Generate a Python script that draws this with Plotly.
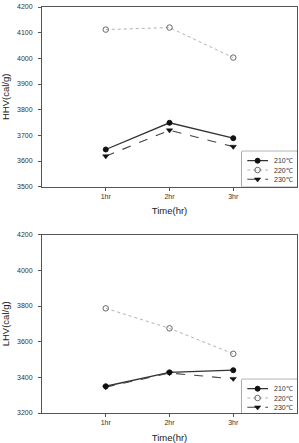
import plotly.graph_objects as go

# ---- data ----
times = ["1hr", "2hr", "3hr"]
series_names = ["210℃", "220℃", "230℃"]
hhv_210 = [3645, 3749, 3689]
hhv_220 = [4112, 4120, 4003]
hhv_230 = [3619, 3720, 3656]
lhv_210 = [3350, 3428, 3440]
lhv_220 = [3787, 3675, 3532]
lhv_230 = [3345, 3424, 3392]
hhv_ticks = [3500, 3600, 3700, 3800, 3900, 4000, 4100, 4200]
lhv_ticks = [3200, 3400, 3600, 3800, 4000, 4200]

W, H = 299, 443
L, R, T, B = 42, 2, 7, 30
PW, PH = W - L - R, H - T - B
FONT = "Liberation Sans, Arial, sans-serif"


def clamp(v):
    return min(1.0, max(0.0, v))


def px_x(p):
    return clamp((p - L) / PW)


def px_y(p):
    return clamp((H - B - p) / PH)


styles = [
    dict(line=dict(color="#333333", width=1.3, dash="solid"),
         marker=dict(symbol="circle", size=5, color="#111111",
                     line=dict(color="#111111", width=1))),
    dict(line=dict(color="#a8a8a8", width=0.9, dash="dot"),
         marker=dict(symbol="circle-open", size=5.5, color="#666666",
                     line=dict(color="#666666", width=1))),
    dict(line=dict(color="#444444", width=1.1, dash="dash"),
         marker=dict(symbol="triangle-down", size=5.5, color="#111111",
                     line=dict(color="#111111", width=0.5))),
]

fig = go.Figure()

top_sets = [hhv_210, hhv_220, hhv_230]
bot_sets = [lhv_210, lhv_220, lhv_230]
for i, vals in enumerate(top_sets):
    fig.add_trace(go.Scatter(x=times, y=vals, mode="lines+markers", name=series_names[i],
                             xaxis="x", yaxis="y", showlegend=False, **styles[i]))
for i, vals in enumerate(bot_sets):
    fig.add_trace(go.Scatter(x=times, y=vals, mode="lines+markers", name=series_names[i],
                             xaxis="x2", yaxis="y2", showlegend=False, **styles[i]))

top_dom = [px_y(186.7), 1.0]
bot_dom = [0.0, px_y(234.7)]

axis_common = dict(showline=True, linecolor="#555555", linewidth=1, mirror=True,
                   ticks="outside", ticklen=3, tickcolor="#555555", tickwidth=1,
                   showgrid=False, zeroline=False,
                   tickfont=dict(family=FONT, size=7, color="#333333"))

title_font = dict(family=FONT, size=9.5, color="#222222")

layout = dict(
    width=W, height=H,
    margin=dict(l=L, r=R, t=T, b=B, pad=0),
    paper_bgcolor="white", plot_bgcolor="white",
    showlegend=False,
    xaxis=dict(domain=[0, 1], anchor="y", type="category", range=[-1, 3],
               title=dict(text="Time(hr)", font=title_font, standoff=8),
               **axis_common),
    yaxis=dict(domain=top_dom, anchor="x", range=[3500, 4200], tickvals=hhv_ticks,
               ticklabelstandoff=4,
               title=dict(text="HHV(cal/g)", font=title_font, standoff=5),
               **axis_common),
    xaxis2=dict(domain=[0, 1], anchor="y2", type="category", range=[-1, 3],
                title=dict(text="Time(hr)", font=title_font, standoff=8),
                **axis_common),
    yaxis2=dict(domain=bot_dom, anchor="x2", range=[3200, 4200], tickvals=lhv_ticks,
                ticklabelstandoff=4,
                title=dict(text="LHV(cal/g)", font=title_font, standoff=5),
                **axis_common),
)

# ---- manual legends (compact boxes in the lower-right corner) ----
shapes = []
annotations = []
legend_boxes = [(151.3, 186.7, "x3", "y3"), (379.3, 413.0, "x4", "y4")]
bx0, bx1 = 242.0, float(W - R)
for (ytop, ybot, xa, ya) in legend_boxes:
    n = xa[1:]
    layout["xaxis" + n] = dict(domain=[px_x(bx0), 1.0], range=[bx0, bx1], visible=False,
                               fixedrange=True, anchor=ya)
    layout["yaxis" + n] = dict(domain=[px_y(ybot), px_y(ytop)], range=[ybot, ytop], visible=False,
                               fixedrange=True, anchor=xa)
    shapes.append(dict(type="rect", xref="paper", yref="paper",
                       x0=px_x(bx0), x1=1.0, y0=px_y(ybot), y1=px_y(ytop),
                       line=dict(color="#555555", width=1), fillcolor="white", layer="below"))
    for i, nm in enumerate(series_names):
        ry = ytop + 9.4 + 9.3 * i
        st = styles[i]
        fig.add_trace(go.Scatter(x=[247.3, 268.0], y=[ry, ry], mode="lines", line=st["line"],
                                 xaxis=xa, yaxis=ya, showlegend=False, hoverinfo="skip"))
        fig.add_trace(go.Scatter(x=[257.6], y=[ry], mode="markers", marker=st["marker"],
                                 xaxis=xa, yaxis=ya, showlegend=False, hoverinfo="skip"))
        annotations.append(dict(x=272.0, y=ry, xref=xa, yref=ya, text=nm, showarrow=False,
                                xanchor="left", yanchor="middle",
                                font=dict(family=FONT, size=7, color="#333333")))

layout["shapes"] = shapes
layout["annotations"] = annotations
fig.update_layout(**layout)

fig.write_html("out.html")
